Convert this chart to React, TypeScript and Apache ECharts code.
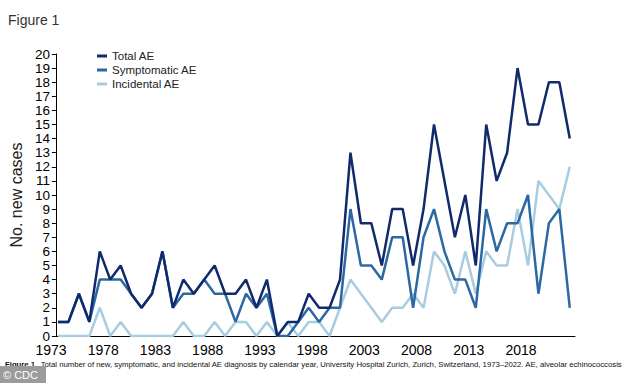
import React, { useEffect, useRef } from "react";
import * as echarts from "echarts";

const years: number[] = [];
for (let y = 1973; y <= 2022; y++) years.push(y);

const totalAE = [1,1,3,1,6,4,5,3,2,3, 6,2,4,3,4,5,3,3,4,2, 4,0,1,1,3,2,2,4,13,8, 8,5,9,9,5,9,15,11,7,10, 5,15,11,13,19,15,15,18,18,14];
const symptomaticAE = [1,1,3,1,4,4,4,3,2,3, 6,2,3,3,4,3,3,1,3,2, 3,0,0,1,2,1,2,2,9,5, 5,4,7,7,2,7,9,6,4,4, 2,9,6,8,8,10,3,8,9,2];
const incidentalAE = [0,0,0,0,2,0,1,0,0,0, 0,0,1,0,0,1,0,1,1,0, 1,0,1,0,1,1,0,2,4,3, 2,1,2,2,3,2,6,5,3,6, 3,6,5,5,9,5,11,10,9,12];
const xTickLabels = [1973, 1978, 1983, 1988, 1993, 1998, 2003, 2008, 2013, 2018];

const FONT = "Liberation Sans, Arial, sans-serif";
const caption = "Total number of new, symptomatic, and incidental AE diagnosis by calendar year, University Hospital Zurich, Zurich, Switzerland, 1973\u20132022. AE, alveolar echinococcosis";

export default function App() {
  const ref = useRef<HTMLDivElement>(null);
  useEffect(() => {
    document.body.style.margin = "0";
    const chart = echarts.init(ref.current!, null, { renderer: "svg" });
    const pairs = (arr: number[]) => years.map((y, i) => [y, arr[i]]);
    chart.setOption({
      animation: false,
      backgroundColor: "#ffffff",
      title: {
        text: "Figure 1",
        left: 8,
        top: 13,
        padding: 0,
        textStyle: { fontFamily: FONT, fontSize: 14, fontWeight: "normal", color: "#333333" },
      },
      legend: {
        orient: "vertical",
        left: 97,
        top: 50,
        padding: 0,
        icon: "rect",
        itemWidth: 10,
        itemHeight: 3,
        itemGap: 2,
        textStyle: { fontFamily: FONT, fontSize: 11.5, color: "#222222" },
        data: ["Total AE", "Symptomatic AE", "Incidental AE"],
      },
      grid: { left: 53, right: 59, top: 54, bottom: 47, containLabel: false },
      xAxis: {
        type: "value",
        min: 1972.8,
        max: 2022.5,
        axisLine: { show: true, lineStyle: { color: "#000000", width: 1 } },
        axisTick: { show: false },
        splitLine: { show: false },
        axisLabel: {
          customValues: xTickLabels,
          formatter: (v: number) => String(v),
          fontFamily: FONT,
          fontSize: 14,
          color: "#000000",
          margin: 7,
          padding: [0, 14, 0, 0],
        },
      },
      yAxis: {
        type: "value",
        min: 0,
        max: 20,
        interval: 1,
        name: "No. new cases",
        nameLocation: "middle",
        nameGap: 29,
        nameTextStyle: { fontFamily: FONT, fontSize: 16, color: "#222222" },
        axisLine: { show: true, lineStyle: { color: "#000000", width: 1 } },
        axisTick: { show: true, length: 4, lineStyle: { color: "#000000" } },
        splitLine: { show: false },
        axisLabel: { fontFamily: FONT, fontSize: 13.5, lineHeight: 13, color: "#000000", margin: 6 },
      },
      series: [
        {
          name: "Total AE",
          type: "line",
          data: pairs(totalAE),
          showSymbol: false,
          z: 3,
          lineStyle: { color: "#102a6b", width: 2.5 },
          itemStyle: { color: "#102a6b" },
        },
        {
          name: "Symptomatic AE",
          type: "line",
          data: pairs(symptomaticAE),
          showSymbol: false,
          z: 2,
          lineStyle: { color: "#2c68a3", width: 2.5 },
          itemStyle: { color: "#2c68a3" },
        },
        {
          name: "Incidental AE",
          type: "line",
          data: pairs(incidentalAE),
          showSymbol: false,
          z: 1,
          lineStyle: { color: "#a8cde0", width: 2.5 },
          itemStyle: { color: "#a8cde0" },
        },
      ],
      graphic: [
        {
          type: "text",
          left: 5,
          top: 358,
          style: {
            rich: {
              b: { fontFamily: FONT, fontSize: 7.75, fontWeight: "bold", fill: "#111111" },
              n: { fontFamily: FONT, fontSize: 7.75, fill: "#111111" },
            },
            text: "{b|Figure 1.} {n|" + caption + "}",
          },
        },
        {
          type: "rect",
          left: 0,
          top: 366,
          shape: { width: 46, height: 17 },
          style: { fill: "#9b9b9b" },
        },
        {
          type: "text",
          left: 3,
          top: 369,
          style: { text: "\u00a9 CDC", fontFamily: FONT, fontSize: 11, fill: "#ffffff" },
        },
      ],
    });
    return () => chart.dispose();
  }, []);
  return <div ref={ref} style={{ width: 634, height: 383 }} />;
}
